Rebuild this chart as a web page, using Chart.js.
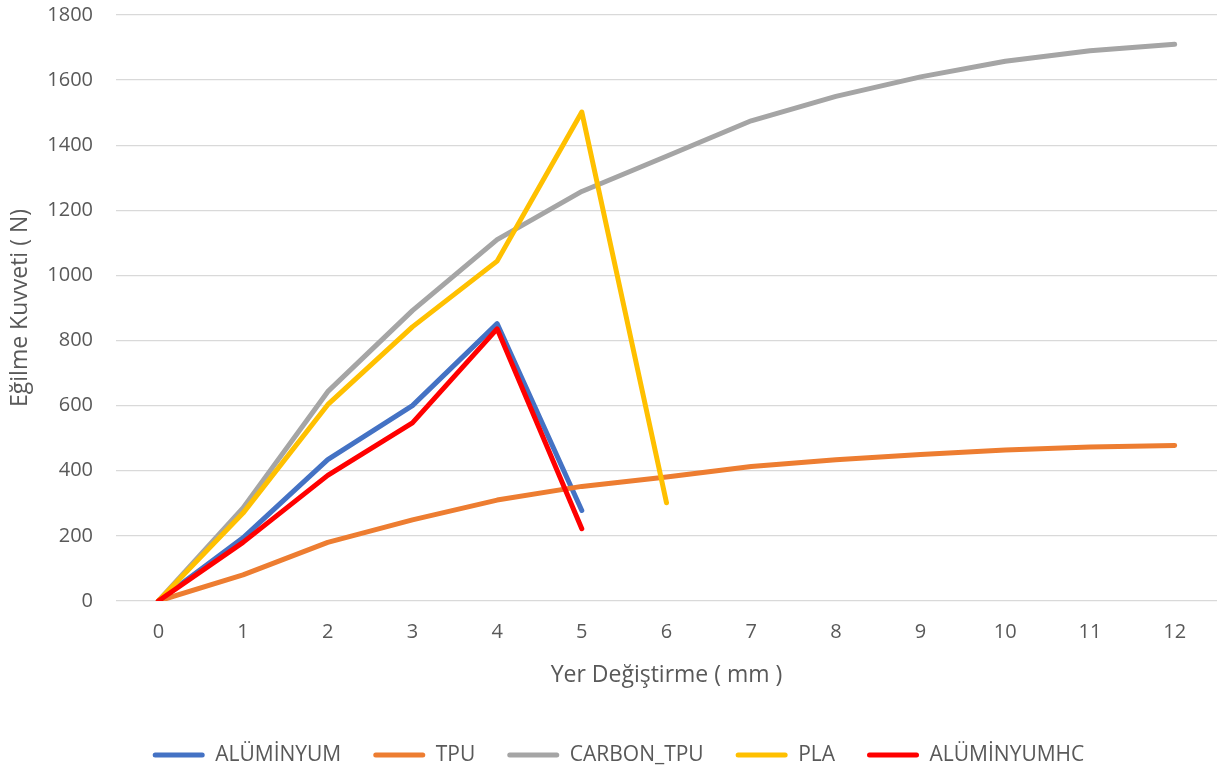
<!DOCTYPE html>
<html lang="tr">
<head>
<meta charset="utf-8">
<title>Eğilme Kuvveti – Yer Değiştirme</title>
<script src="https://cdn.jsdelivr.net/npm/chart.js@4/dist/chart.umd.min.js"></script>
<style>
  html, body { margin: 0; padding: 0; background: #ffffff; }
  #wrap { position: relative; width: 1217px; height: 774px; }
</style>
</head>
<body>
<div id="wrap"><canvas id="chart" width="1217" height="774"></canvas></div>
<script>
// Displacement steps (mm)
const categories = ['0', '1', '2', '3', '4', '5', '6', '7', '8', '9', '10', '11', '12'];

// Bending force (N) per material
const aluminyum   = [0, 194, 434, 600, 852, 278, null, null, null, null, null, null, null];
const tpu         = [0, 80, 180, 249, 310, 352, 381, 413, 434, 450, 464, 473, 478];
const carbonTpu   = [0, 286, 643, 892, 1110, 1258, 1366, 1475, 1550, 1610, 1658, 1690, 1710];
const pla         = [0, 270, 603, 842, 1044, 1502, 302, null, null, null, null, null, null];
const aluminyumHc = [0, 180, 386, 547, 836, 222, null, null, null, null, null, null, null];

const yTickMin = 0;
const yTickMax = 1800;
const yTickStep = 200;

const seriesNames = ['ALÜMİNYUM', 'TPU', 'CARBON_TPU', 'PLA', 'ALÜMİNYUMHC'];
const seriesValues = [aluminyum, tpu, carbonTpu, pla, aluminyumHc];
const seriesColors = ['#4472C4', '#ED7D31', '#A5A5A5', '#FFC000', '#FF0000'];

const FONT = "'Open Sans', 'DejaVu Sans', sans-serif";
const TEXT = '#595959';

// legend geometry: item spacing doubles as the legend's vertical padding
const LEGEND_PAD = 32;
const LEGEND_FONT = 21;
const LEGEND_SHIFT_X = 10;

const datasets = seriesNames.map((name, i) => ({
  label: name,
  data: seriesValues[i],
  borderColor: seriesColors[i],
  backgroundColor: seriesColors[i],
  borderWidth: 5,
  borderCapStyle: 'round',
  borderJoinStyle: 'round',
  pointRadius: 0,
  pointHoverRadius: 0,
  tension: 0,
  fill: false,
  // later series are painted over earlier ones
  order: seriesNames.length - 1 - i
}));

// nudges the centred legend row slightly to the right
const legendNudge = {
  id: 'legendNudge',
  afterLayout(chart) {
    const lg = chart.legend;
    if (lg) { lg.left += LEGEND_SHIFT_X; lg.right += LEGEND_SHIFT_X; }
  }
};

new Chart(document.getElementById('chart'), {
  type: 'line',
  data: { labels: categories, datasets },
  plugins: [legendNudge],
  options: {
    responsive: false,
    animation: false,
    events: [],
    layout: { padding: { top: 15, right: 0, bottom: -1.5, left: 0 } },
    plugins: {
      tooltip: { enabled: false },
      legend: {
        position: 'bottom',
        labels: {
          font: { family: FONT, size: LEGEND_FONT },
          color: TEXT,
          boxWidth: 52,
          boxHeight: 5,
          useBorderRadius: true,
          borderRadius: 2.5,
          padding: LEGEND_PAD,
          generateLabels: (chart) => chart.data.datasets.map((ds, i) => ({
            text: ds.label,
            fillStyle: ds.borderColor,
            strokeStyle: ds.borderColor,
            lineWidth: 0,
            hidden: false,
            datasetIndex: i,
            fontColor: TEXT,
            borderRadius: 2.5
          }))
        }
      }
    },
    scales: {
      x: {
        type: 'category',
        offset: true,
        grid: { display: false, drawTicks: false },
        border: { display: false },
        ticks: {
          font: { family: FONT, size: 20 },
          color: TEXT,
          padding: 19,
          maxRotation: 0,
          autoSkip: false
        },
        title: {
          display: true,
          text: 'Yer Değiştirme ( mm )',
          font: { family: FONT, size: 23 },
          color: TEXT,
          padding: { top: 0, bottom: 23.7 }
        },
        afterFit: (scale) => { scale.height = 111.5; }
      },
      y: {
        min: yTickMin,
        max: yTickMax,
        grid: { color: '#d9d9d9', lineWidth: 1.3, drawTicks: false },
        border: { display: false },
        ticks: {
          stepSize: yTickStep,
          font: { family: FONT, size: 20 },
          color: TEXT,
          padding: 23,
          callback: (value) => String(value)
        },
        title: {
          display: true,
          text: 'Eğilme Kuvveti ( N)',
          font: { family: FONT, size: 23 },
          color: TEXT,
          padding: { top: 7, bottom: 0 }
        },
        afterFit: (scale) => {
          scale.width = 116;
          scale.paddingTop = 0;
          scale.paddingBottom = 0;
        }
      }
    }
  }
});
</script>
</body>
</html>
